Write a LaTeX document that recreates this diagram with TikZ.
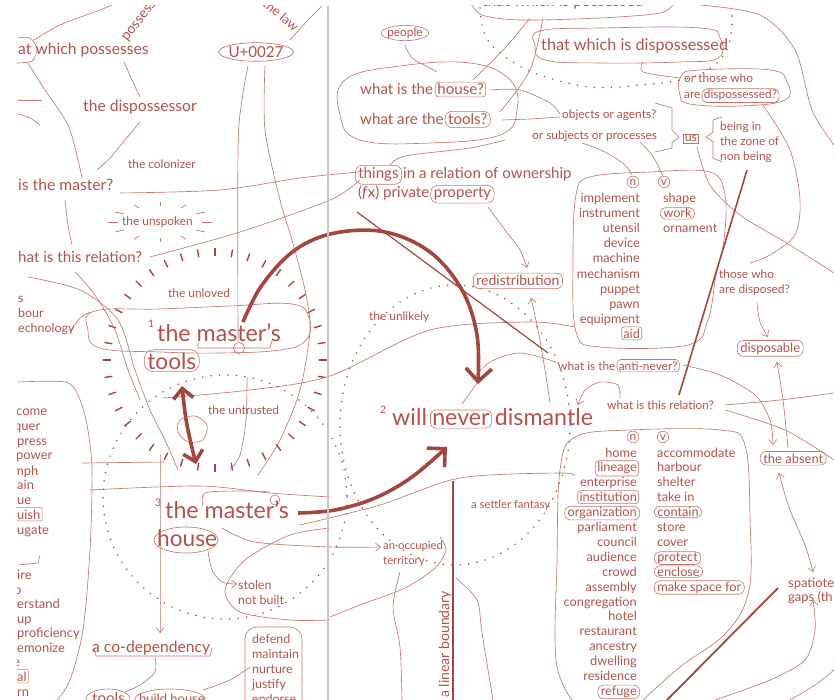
\documentclass[tikz,border=0pt]{standalone}
\usepackage{fontspec}
\setmainfont{Lato}
\usetikzlibrary{arrows.meta,shapes.geometric}
\definecolor{tc}{RGB}{178,82,74}
\definecolor{lc}{RGB}{196,118,108}
\definecolor{kc}{RGB}{165,70,62}
\definecolor{gc}{RGB}{196,198,200}
\newcommand\fsz[1]{\pgfmathsetmacro\myfs{#1*1.08}\fontsize{\myfs}{\myfs}\selectfont}
\begin{document}
\begin{tikzpicture}[x=1pt,y=-1pt,
 tx/.style={inner sep=0pt,text=tc,font=\fsz{#1},anchor=base west},
 tr/.style={inner sep=0pt,text=tc,font=\fsz{#1},anchor=base east},
 bx/.style={draw=lc,line width=0.6pt,rounded corners=3pt,inner xsep=1.8pt,inner ysep=1.8pt},
 ov/.style={draw=lc,line width=0.6pt,rounded corners=7pt,inner xsep=3pt,inner ysep=2.5pt},
 ln/.style={draw=lc,line width=0.65pt},
 ar/.style={-{Straight Barb[length=5pt,width=8pt]}},
 dar/.style={{Straight Barb[length=5pt,width=8pt]}-{Straight Barb[length=5pt,width=8pt]}},
 thk/.style={draw=kc,line width=3.6pt},
 big/.style={-{Straight Barb[length=13pt,width=26pt]}},
 bigd/.style={{Straight Barb[length=10pt,width=20pt]}-{Straight Barb[length=10pt,width=20pt]}},
 tick/.style={draw=kc,line width=1.4pt},
 dotl/.style={draw=kc,line width=1.7pt,line cap=round,dash pattern=on 0pt off 8.5pt},
]
\useasboundingbox (0,0) rectangle (834,700);
\clip (17,6) rectangle (834,700);

% ---------- radial tick ring and dotted circles ----------
\foreach \a in {0,9,...,351}{\draw[tick,shift={(215,360)}] (\a:104) -- (\a:112);}
\foreach \a in {0,30,...,330}{\draw[draw=lc,line width=0.7pt,shift={(160,222)},xscale=2.6] (\a:16) -- (\a:20);}
\draw[dotl] (225,497) circle[radius=122];
\draw[dotl] (455,425) ellipse[x radius=115,y radius=140];
\draw[dotl] plot[smooth,tension=0.6] coordinates {(480,8) (485,35) (505,57) (540,75) (590,87) (640,85) (690,78) (718,62) (730,40) (732,8)};

% ---------- thin hand-drawn lines (left) ----------
\draw[ln] plot[smooth] coordinates {(17,38) (30,38) (37,49) (32,61) (17,63)};
\draw[ln] plot[smooth] coordinates {(34,40) (60,25) (100,10) (112,5)};
\draw[ln] plot[smooth] coordinates {(28,63) (45,90) (68,125) (78,160) (82,178)};
\draw[ln] plot[smooth] coordinates {(124,62) (132,80) (140,97)};
\draw[ln] plot[smooth] coordinates {(140,122) (125,140) (110,158) (97,170)};
\draw[ln] (18,100) -- (42,100);
\draw[ln] plot[smooth] coordinates {(18,114) (30,118) (40,125)};
\draw[ln] plot[smooth] coordinates {(120,193) (220,190) (300,178) (358,172)};
\draw[ln] plot[smooth] coordinates {(150,257) (240,232) (330,200) (360,180)};
\draw[ln] plot[smooth] coordinates {(65,200) (68,225) (72,245)};
\draw[ln] plot[smooth] coordinates {(28,277) (80,290) (118,320) (135,370) (150,410) (165,440) (178,470)};
\draw[ln] plot[smooth] coordinates {(75,272) (95,295) (115,330) (128,370) (140,400)};
\draw[ln] plot[smooth] coordinates {(70,332) (80,318) (90,312)};
\draw[ln] plot[smooth cycle,tension=0.7] coordinates {(95,311) (160,309) (230,306) (292,304) (309,318) (306,340) (280,350) (220,353) (160,352) (100,348) (88,330)};
\draw[ln] (198,342) -- (198,348) -- (270,348) -- (272,341);
\draw[ln] plot[smooth] coordinates {(248,66) (242,100) (238,150) (238,342)};
\draw[ln] (239,348) circle[radius=5.5];
\draw[ln] plot[smooth] coordinates {(265,66) (265,130) (280,200) (292,240) (305,290) (310,330) (300,390) (280,440) (258,475)};
\draw[ln] plot[smooth] coordinates {(290,40) (308,20) (322,6)};
\draw[ln] plot[smooth] coordinates {(18,382) (65,382) (78,395) (87,425) (92,470) (90,550) (83,630) (70,680) (57,700)};
\draw[ln] plot[smooth] coordinates {(82,463) (165,462)};
\draw[ln] plot[smooth] coordinates {(90,490) (200,486) (270,493) (330,497)};
\draw[ln] plot[smooth] coordinates {(163,398) (250,390) (330,376) (430,330) (530,322) (575,327)};
\draw[ln,ar] plot[smooth] coordinates {(160,455) (160,560) (160,633)};
\draw[ln] plot[smooth cycle] coordinates {(180,420) (195,416) (207,425) (203,440) (188,442) (178,432)};
\draw[ln] plot[smooth] coordinates {(247,377) (246,420) (240,455) (230,470)};
\draw[ln] (186,540) ellipse[x radius=32,y radius=13];
\draw[ln,ar] plot[smooth] coordinates {(208,551) (212,570) (222,582) (237,584)};
\draw[ln] plot[smooth] coordinates {(330,528) (290,535) (245,560) (225,590) (240,612) (290,620) (330,620)};
\draw[ln] plot[smooth] coordinates {(203,506) (205,493) (240,491) (270,492)};
\draw[ln] (275,500) circle[radius=5];
\draw[ln,ar] plot[smooth] coordinates {(222,528) (255,542) (330,547) (381,547)};
\draw[ln] (94,648) -- (96,656) -- (210,656) -- (212,648);
\draw[ln] plot[smooth] coordinates {(155,657) (155,672) (140,685) (125,692)};
\draw[ln] (108,699) ellipse[x radius=22,y radius=10];
\draw[ln] (170,699) ellipse[x radius=35,y radius=10];
\draw[ln] plot[smooth] coordinates {(203,690) (230,680) (250,667)};
\draw[ln,rounded corners=12pt] (245,627) rectangle (302,712);
\draw[ln] (18,565) -- (38,563) -- (40,555);

% ---------- thin hand-drawn lines (right) ----------
\draw[ln] plot[smooth] coordinates {(470,2) (482,15) (520,20) (600,18) (660,13) (675,2)};
\draw[ln] plot[smooth] coordinates {(530,18) (505,48) (473,80)};
\draw[ln] plot[smooth] coordinates {(543,18) (530,70) (500,112)};
\draw[ln] plot[smooth] coordinates {(405,45) (412,58) (430,68) (437,72)};
\draw[ln] plot[smooth cycle,tension=0.7] coordinates {(345,80) (400,66) (470,63) (510,80) (517,110) (500,135) (430,143) (360,140) (340,115)};
\draw[ln] plot[smooth] coordinates {(490,90) (520,90) (550,103) (560,114)};
\draw[ln] plot[smooth] coordinates {(502,120) (530,119) (560,117)};
\draw[ln] plot[smooth] coordinates {(390,165) (405,156) (470,148) (505,140)};
\draw[ln] plot[smooth cycle,tension=0.7] coordinates {(540,31) (600,28) (700,28) (720,38) (718,58) (680,62) (600,63) (545,60) (535,45)};
\draw[ln] plot[smooth] coordinates {(643,62) (643,72) (680,78)};
\draw[ln] plot[smooth cycle,tension=0.7] coordinates {(681,76) (700,70) (770,70) (787,82) (785,100) (740,106) (690,104) (680,95)};
\draw[ln] plot[smooth] coordinates {(700,5) (760,15) (795,50) (812,110) (834,145)};
\draw[ln] plot[smooth] coordinates {(763,105) (790,150) (800,200) (795,235) (770,255) (750,263)};
\draw[ln] plot[smooth] coordinates {(697,147) (710,185) (740,215) (790,245) (834,273)};
\draw[ln] (655,103) -- (672,108) -- (672,130) -- (679,137) -- (672,143) -- (672,148) -- (655,152);
\draw[ln] (722,117) -- (713,120) -- (713,132) -- (706,137) -- (713,142) -- (713,158) -- (722,162);
\draw[ln] plot[smooth] coordinates {(582,143) (605,152) (625,165) (632,175)};
\draw[ln] plot[smooth] coordinates {(640,142) (652,155) (660,170) (663,176)};
\draw[ln,ar] plot[smooth] coordinates {(488,207) (505,230) (520,250) (527,268)};
\draw[ln] plot[smooth cycle,tension=0.6] coordinates {(590,177) (650,172) (710,172) (725,195) (724,240) (716,275) (708,320) (688,345) (600,347) (576,332) (573,260) (576,195)};
\draw[ln,ar] plot[smooth] coordinates {(550,403) (545,370) (538,330) (531,298)};
\draw[draw=kc,line width=1.2pt] (357,212) -- (548,353);
\draw[draw=kc,line width=1.6pt] (747,170) -- (679,395);
\draw[ln,ar] plot[smooth] coordinates {(683,365) (720,375) (755,395) (770,420) (773,445)};
\draw[ln,ar] plot[smooth] coordinates {(788,448) (783,400) (777,362)};
\draw[ln,ar] plot[smooth] coordinates {(757,303) (760,322) (768,337)};
\draw[ln] plot[smooth] coordinates {(725,405) (780,400) (834,393)};
\draw[ln] plot[smooth] coordinates {(725,410) (785,430) (834,460)};
\draw[ln,ar] plot[smooth] coordinates {(620,398) (618,385) (600,382) (585,390) (578,405)};
\draw[ln] plot[smooth] coordinates {(556,362) (520,353) (490,362) (472,380)};
\draw[ln] (462,404) -- (477,383);
\draw[ln] plot[smooth,tension=0.6] coordinates {(572,700) (556,660) (557,560) (560,470) (575,437) (630,430) (720,430) (745,445) (750,520) (749,590) (727,632) (680,667) (643,700)};
\draw[ln] plot[smooth] coordinates {(300,525) (380,505) (460,478) (560,473) (575,476)};
\draw[draw=kc,line width=2pt] (453,481) -- (453,700);
\draw[ln] plot[smooth] coordinates {(440,537) (446,550) (435,568) (405,588) (360,605) (330,617)};
\draw[ln] plot[smooth] coordinates {(400,572) (393,607) (400,647) (402,700)};
\draw[ln] plot[smooth] coordinates {(456,578) (477,600) (482,633) (493,700)};
\draw[draw=kc,line width=1.8pt] (778,588) -- (667,700);
\draw[ln,dar] plot[smooth] coordinates {(779,473) (790,510) (805,545) (813,572)};
\draw[ln,ar] plot[smooth] coordinates {(715,700) (770,680) (805,660) (815,630) (813,600)};
\draw[ln] plot[smooth] coordinates {(790,700) (815,685) (834,670)};

% ---------- thick arrows ----------
\draw[thk,big] plot[smooth,tension=0.6] coordinates {(243,322) (262,285) (295,250) (335,233) (385,232) (430,252) (462,290) (477,335) (478,384)};
\draw[thk,big] plot[smooth,tension=0.6] coordinates {(298,513) (335,510) (375,498) (412,477) (447,447)};
\draw[thk,bigd] plot[smooth] coordinates {(182,386) (187,425) (196,464)};

% ---------- texts (left) ----------
\node[tx=14.5] (t1) at (18,55) {at which possesses};
\node[tx=13,rotate=52] (t2) at (127,42) {possessi};
\node[tx=12,rotate=-40,anchor=base east] (t3) at (294,32) {the law};
\node[tx=14,text=tc,draw=lc,line width=0.7pt,ellipse,inner xsep=-1pt,inner ysep=1pt,anchor=center] (u) at (256,52) {U+0027};
\node[tx=14.5] (t4) at (83,112) {the dispossessor};
\node[tx=11] (t5) at (128,169) {the colonizer};
\node[tx=14.5] (t6) at (18,191) {is the master?};
\node[tx=11] (t7) at (122,226) {the unspoken};
\node[tx=14] (t8) at (18,263) {hat is this relation?};
\node[tx=11] (t9) at (168,297) {the unloved};
\node[tx=11.5] (t10) at (18,302) {s};
\node[tx=11.5] (t11) at (18,317) {bour};
\node[tx=11.5] (t12) at (18,332) {echnology};
\node[tx=9.5] (m1s) at (148,327) {1};
\node[tx=21.5] (m1) at (157,341) {the master’s};
\node[tx=21,ov,rounded corners=9pt] (m1t) at (144,369) {tools};
\node[tx=11] (t13) at (208,414) {the untrusted};
\node[tx=9.5] (m3s) at (155,506) {3};
\node[tx=21.5] (m3) at (165,518) {the master’s};
\node[tx=21] (m3h) at (157,546) {house};
\node[tx=11.5] (t14) at (238,589) {stolen};
\node[tx=11.5] (t15) at (238,604) {not built};
\node[tx=14.5] (t16) at (92,652) {a co-dependency};
\node[tx=14] (t17) at (92,703) {tools};
\node[tx=12] (t18) at (139,703) {build house};
\foreach \w [count=\i from 0] in {defend,maintain,nurture,justify,endorse}
  \node[tx=11.5] (d\i) at (252,{643+15*\i}) {\w};
\node[tx=12] (c1) at (16,415) {come};
\node[tx=12] (c2) at (14,430) {quer};
\node[tx=12] (c3) at (17,445) {press};
\node[tx=12] (c4) at (16,459) {power};
\node[tx=12] (c5) at (13,475) {mph};
\node[tx=12] (c6) at (17,489) {ain};
\node[tx=12] (c7) at (17,504) {ue};
\node[tx=12,bx,rounded corners=1pt] (c8) at (15,519) {uish};
\node[tx=12] (c9) at (17,534) {ugate};
\node[tx=12] (c10) at (17,579) {ire};
\node[tx=12] (c11) at (14,594) {o};
\node[tx=12] (c12) at (17,608) {erstand};
\node[tx=12] (c13) at (17,623) {up};
\node[tx=12] (c14) at (17,637) {proficiency};
\node[tx=12] (c15) at (17,652) {emonize};
\node[tx=12] (c16) at (13,666) {e};
\node[tx=12,bx,rounded corners=1pt] (c17) at (15,681) {al};
\node[tx=12] (c18) at (17,696) {rn};

% ---------- texts (right) ----------
\node[tx=14.5] (r0) at (482,7) {that which is possessed};
\node[tx=11,draw=lc,line width=0.6pt,ellipse,inner xsep=-1pt,inner ysep=0pt,anchor=center] (p) at (405,33) {people};
\node[tx=15] (r1) at (541,51) {that which is dispossessed};
\node[tx=14] (q1) at (360,95) {what is the};
\node[tx=14,bx] (q1b) at ([xshift=2pt]q1.base east) {house?};
\node[tx=14] (q2) at (360,125) {what are the};
\node[tx=14,ov] (q2b) at ([xshift=1pt]q2.base east) {tools?};
\node[tx=11] (r2) at (562,119) {objects or agents?};
\node[tx=11] (r3) at (532,140) {or subjects or processes};
\node[tx=11] (r4) at (684,83) {or those who};
\node[tx=11] (r5) at (684,99) {are};
\node[tx=11,ov,rounded corners=5pt,inner ysep=1.5pt,inner xsep=2pt] (r5b) at ([xshift=1pt]r5.base east) {dispossessed?};
\node[tx=11.5,bx,rounded corners=0pt,inner xsep=1.5pt,inner ysep=1pt] (us) at (683,142) {us};
\node[tx=11] (r6) at (720,131) {being in};
\node[tx=11] (r7) at (720,146) {the zone of};
\node[tx=11] (r8) at (720,161) {non being};
\node[tx=14,ov] (th) at (355,179) {things};
\node[tx=14] (th2) at ([xshift=1pt]th.base east) {in a relation of ownership};
\node[tx=14] (pp) at (358,198) {(\textit{f}x) private};
\node[tx=14,ov] (ppb) at ([xshift=1pt]pp.base east) {property};
\node[tx=11,draw=lc,line width=0.6pt,circle,inner sep=1pt,anchor=center] (n1) at (633,182) {n};
\node[tx=11,draw=lc,line width=0.6pt,circle,inner sep=1pt,anchor=center] (v1) at (664,182) {v};
\foreach \w [count=\i from 0] in {implement,instrument,utensil,device,machine,mechanism,puppet,pawn,equipment}
  \node[tr=11.8] (la\i) at (640,{203+15*\i}) {\w};
\node[tr=11.8,bx] (aid) at (642,338) {aid};
\node[tx=11.8] (ra1) at (663,203) {shape};
\node[tx=11.8,ov,rounded corners=5pt,inner ysep=1pt] (ra2) at (660,218) {work};
\node[tx=11.8] (ra3) at (663,233) {ornament};
\node[tx=13,ov,rounded corners=6pt] (red) at (473,286) {redistribution};
\node[tx=11] (r9) at (369,320) {the unlikely};
\node[tx=11] (r10) at (719,278) {those who};
\node[tx=11] (r11) at (719,293) {are disposed?};
\node[tx=12,ov,rounded corners=6pt,inner ysep=2pt] (dsp) at (737,352) {disposable};
\node[tx=11] (r12) at (558,370) {what is the};
\node[tx=11,bx,rounded corners=4pt] (r12b) at ([xshift=1pt]r12.base east) {anti-never?};
\node[tx=11] (r13) at (607,409) {what is this relation?};
\node[tx=9.5] (w2s) at (380,413) {2};
\node[tx=21.5] (w1) at (392,425) {will};
\node[tx=21.5,bx,rounded corners=5pt,inner ysep=3pt] (w2) at ([xshift=3pt]w1.base east) {never};
\node[tx=21.5] (w3) at ([xshift=3pt]w2.base east) {dismantle};
\node[tx=11,draw=lc,line width=0.6pt,circle,inner sep=1pt,anchor=center] (n2) at (633,437) {n};
\node[tx=11,draw=lc,line width=0.6pt,circle,inner sep=1pt,anchor=center] (v2) at (663,437) {v};
\foreach \w [count=\i from 0] in {home,,enterprise,,,parliament,council,audience,crowd,assembly,congregation,hotel,restaurant,ancestry,dwelling,residence}
  \node[tr=11.8] (lb\i) at (637,{457+14.9*\i}) {\w};
\node[tr=11.8,bx] (lb2x) at (639,{457+14.9}) {lineage};
\node[tr=11.8,bx] (lb4x) at (639,{457+14.9*3}) {institution};
\node[tr=11.8,ov,rounded corners=6pt,inner ysep=1pt] (lb5x) at (640,{457+14.9*4}) {organization};
\node[tr=11.8,ov,rounded corners=6pt,inner ysep=1pt] (lb17x) at (640,{457+14.9*16}) {refuge};
\foreach \w [count=\i from 0] in {accommodate,harbour,shelter,take in,,store,cover}
  \node[tx=11.8] (rb\i) at (657,{457+14.9*\i}) {\w};
\node[tx=11.8,ov,rounded corners=6pt,inner ysep=1pt] (rb4x) at (654,{457+14.9*4}) {contain};
\node[tx=11.8,ov,rounded corners=6pt,inner ysep=1pt] (rb7x) at (654,{457+14.9*7}) {protect};
\node[tx=11.8,ov,rounded corners=6pt,inner ysep=1pt] (rb8x) at (654,{457+14.9*8}) {enclose};
\node[tx=11.8,ov,rounded corners=6pt,inner ysep=1pt] (rb9x) at (654,{457+14.9*9}) {make space for};
\node[tx=12,ov,rounded corners=6pt,inner ysep=2pt] (abs) at (760,463) {the absent};
\node[tx=12] (sp1) at (788,587) {spatiote};
\node[tx=12] (sp2) at (788,601) {gaps (th};
\node[tx=10.5] (r14) at (471,508) {a settler fantasy};
\node[tx=10.5] (r15) at (383,549) {an occupied};
\node[tx=10.5] (r16) at (383,564) {territory};
\node[tx=13,rotate=90] (r17) at (449,698) {a linear boundary};

% gutter
\draw[gc,line width=2.6pt] (328,6) -- (328,700);
\end{tikzpicture}
\end{document}
